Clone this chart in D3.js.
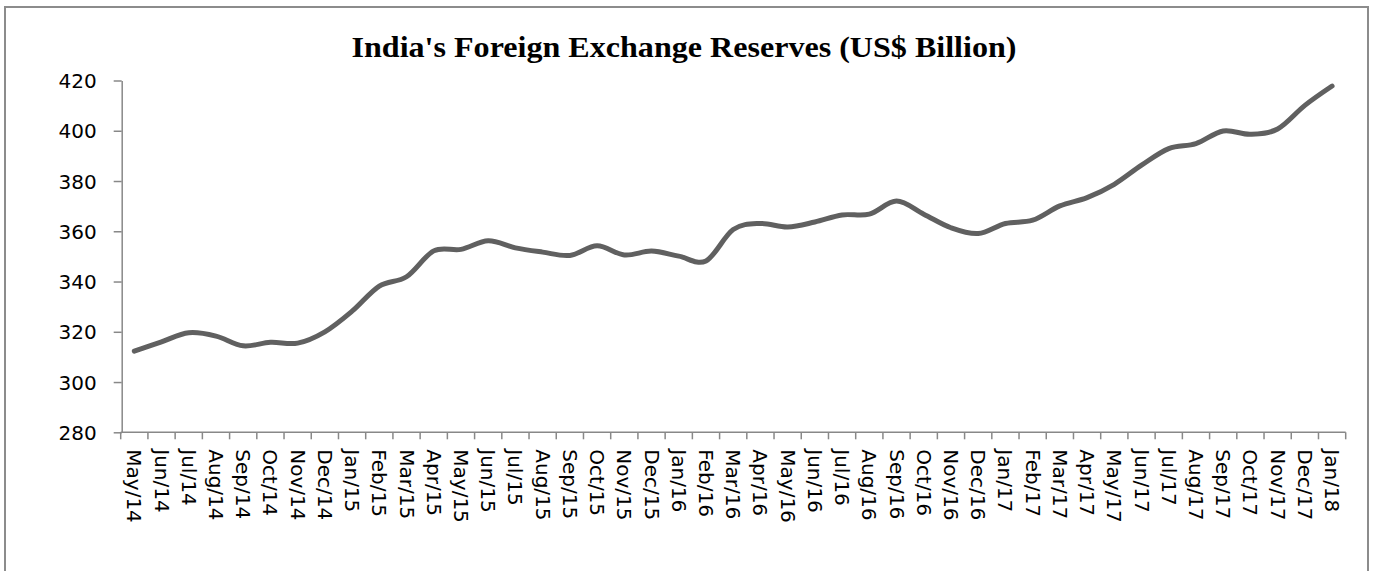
<!DOCTYPE html>
<html>
<head>
<meta charset="utf-8">
<script src="https://cdn.jsdelivr.net/npm/d3@7"></script>
<style>
  body { margin: 0; background: #fff; }
  .axis path, .axis line { stroke: #888; stroke-width: 1.5px; }
  .axis text { font-family: "DejaVu Sans", sans-serif; font-size: 20px; fill: #000; }
</style>
</head>
<body>
<div id="chart"></div>
<script>
// month labels on the x axis
var months = ["May/14","Jun/14","Jul/14","Aug/14","Sep/14","Oct/14","Nov/14","Dec/14",
  "Jan/15","Feb/15","Mar/15","Apr/15","May/15","Jun/15","Jul/15","Aug/15","Sep/15","Oct/15","Nov/15","Dec/15",
  "Jan/16","Feb/16","Mar/16","Apr/16","May/16","Jun/16","Jul/16","Aug/16","Sep/16","Oct/16","Nov/16","Dec/16",
  "Jan/17","Feb/17","Mar/17","Apr/17","May/17","Jun/17","Jul/17","Aug/17","Sep/17","Oct/17","Nov/17","Dec/17",
  "Jan/18"];

// reserves, US$ billion
var reserves = [312.3, 316.0, 319.6, 318.3, 314.4, 315.8, 315.5, 320.0,
  328.2, 338.2, 341.9, 352.2, 352.8, 356.2, 353.4, 351.7, 350.4, 354.2, 350.6, 352.1,
  350.1, 348.2, 360.7, 363.1, 361.7, 363.7, 366.5, 366.8, 372.0, 366.8, 361.4, 359.1,
  363.1, 364.4, 370.1, 373.4, 378.7, 386.3, 392.9, 394.9, 399.9, 398.6, 400.7, 410.1,
  417.8];

var yTicks = [280, 300, 320, 340, 360, 380, 400, 420];

var W = 1374, H = 571;

var svg = d3.select("#chart").append("svg")
    .attr("width", W)
    .attr("height", H);

// chart frame
svg.append("rect")
    .attr("x", 5)
    .attr("y", 7)
    .attr("width", 1363)
    .attr("height", 620)
    .attr("fill", "none")
    .attr("stroke", "#8c8c8c")
    .attr("stroke-width", 2);

var x = d3.scaleBand()
    .domain(months)
    .range([120.7, 1345.7]);

var y = d3.scaleLinear()
    .domain([280, 420])
    .range([432.3, 80.5]);

// y axis
svg.append("g")
    .attr("class", "axis")
    .attr("transform", "translate(121.7,0)")
    .call(d3.axisLeft(y).tickValues(yTicks).tickSize(8).tickPadding(17).tickSizeOuter(0))
    .selectAll("text")
    .attr("dy", "0.35em");

// x axis, ticks on band edges
var xAxis = svg.append("g")
    .attr("class", "axis")
    .attr("transform", "translate(0,432.3)");

xAxis.append("line")
    .attr("x1", x.range()[0])
    .attr("x2", x.range()[1])
    .attr("y1", 0)
    .attr("y2", 0);

xAxis.selectAll(".edge")
    .data(months.concat(["end"]))
    .enter().append("line")
    .attr("class", "edge")
    .attr("x1", (d, i) => x.range()[0] + i * x.step())
    .attr("x2", (d, i) => x.range()[0] + i * x.step())
    .attr("y1", 0)
    .attr("y2", 7);

xAxis.selectAll(".lbl")
    .data(months)
    .enter().append("text")
    .attr("class", "lbl")
    .attr("transform", d => "translate(" + (x(d) + x.bandwidth() / 2) + ",17) rotate(90)")
    .attr("dy", "0.35em")
    .attr("text-anchor", "start")
    .text(d => d);

// the series
var line = d3.line()
    .x((d, i) => x(months[i]) + x.bandwidth() / 2)
    .y(d => y(d))
    .curve(d3.curveCardinal);

svg.append("path")
    .datum(reserves)
    .attr("d", line)
    .attr("fill", "none")
    .attr("stroke", "#606060")
    .attr("stroke-width", 5)
    .attr("stroke-linecap", "round")
    .attr("stroke-linejoin", "round");

// title (stretched to the width of the original wider serif)
svg.append("text")
    .attr("x", 684)
    .attr("y", 57)
    .attr("text-anchor", "middle")
    .attr("font-family", "'Liberation Serif', 'DejaVu Serif', serif")
    .attr("font-weight", "bold")
    .attr("font-size", 30)
    .attr("textLength", 665)
    .attr("lengthAdjust", "spacingAndGlyphs")
    .attr("fill", "#000")
    .text("India's Foreign Exchange Reserves (US$ Billion)");
</script>
</body>
</html>
